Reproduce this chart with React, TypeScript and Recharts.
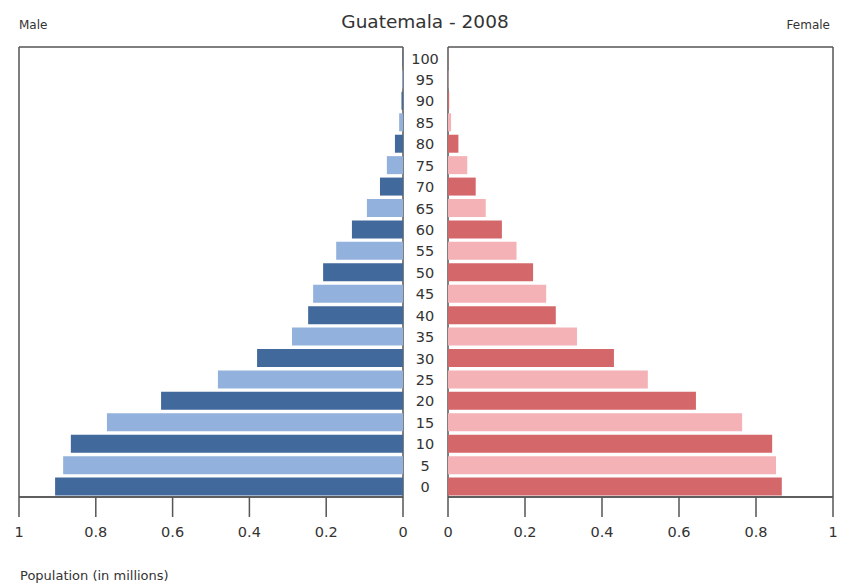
import { BarChart, Bar, XAxis, YAxis, CartesianGrid, Cell } from "recharts";

const AGES = [0, 5, 10, 15, 20, 25, 30, 35, 40, 45, 50, 55, 60, 65, 70, 75, 80, 85, 90, 95, 100];
const MALE = [0.906, 0.885, 0.865, 0.771, 0.63, 0.482, 0.38, 0.289, 0.247, 0.234, 0.208, 0.174, 0.133, 0.094, 0.06, 0.042, 0.021, 0.01, 0.004, 0.002, 0.001];
const FEMALE = [0.867, 0.852, 0.842, 0.764, 0.644, 0.519, 0.431, 0.335, 0.28, 0.255, 0.221, 0.178, 0.14, 0.098, 0.072, 0.05, 0.027, 0.008, 0.003, 0.001, 0.0005];
const X_TICKS = [0, 0.2, 0.4, 0.6, 0.8, 1];

const MALE_COLORS = ["#41699b", "#92b1dc"];
const FEMALE_COLORS = ["#d4676a", "#f4b1b6"];

const FONT = "'DejaVu Sans', sans-serif";
const AXIS_COLOR = "#555";

const data = AGES.map((age, i) => ({ age: String(age), male: MALE[i], female: FEMALE[i] }));

// only draw the outer box of the plot area
const frameX = ({ offset }: any) => [offset.left, offset.left + offset.width];
const frameY = ({ offset }: any) => [offset.top, offset.top + offset.height];

const tickStyle = { fontSize: 14.5, fill: "#333", fontFamily: FONT };

function AgeTick(props: any) {
  const { y, payload } = props;
  return (
    <text x={22} y={y} dy="0.4em" textAnchor="middle" fontSize={14.5} fill="#333" fontFamily={FONT}>
      {payload.value}
    </text>
  );
}

export default function App() {
  return (
    <div style={{ position: "absolute", left: 0, top: 0, width: 842, height: 586, background: "#fff", fontFamily: FONT }}>
      <div style={{ position: "absolute", left: 0, width: 850, top: 11, textAlign: "center", fontSize: 18.5, color: "#333" }}>
        Guatemala - 2008
      </div>
      <div style={{ position: "absolute", left: 19, top: 18, fontSize: 12, color: "#333" }}>Male</div>
      <div style={{ position: "absolute", right: 12, top: 18, fontSize: 12, color: "#333" }}>Female</div>
      <div style={{ position: "absolute", left: 20, top: 568, fontSize: 13, color: "#333" }}>Population (in millions)</div>

      <div style={{ position: "absolute", left: 0, top: 0 }}>
        <BarChart
          width={420}
          height={586}
          data={data}
          layout="vertical"
          margin={{ top: 47, right: 17, left: 19, bottom: 0 }}
          barCategoryGap="15%"
        >
          <CartesianGrid
            stroke={AXIS_COLOR}
            strokeWidth={1.5}
            verticalCoordinatesGenerator={frameX}
            horizontalCoordinatesGenerator={frameY}
          />
          <XAxis
            type="number"
            domain={[0, 1]}
            ticks={X_TICKS}
            reversed
            height={89}
            tickSize={20}
            tickMargin={10}
            stroke={AXIS_COLOR}
            strokeWidth={1.5}
            tick={tickStyle}
            tickFormatter={(v) => String(v)}
            interval={0}
          />
          <YAxis type="category" dataKey="age" reversed hide />
          <Bar dataKey="male" barSize={18} isAnimationActive={false}>
            {data.map((d, i) => (
              <Cell key={d.age} fill={MALE_COLORS[i % 2]} />
            ))}
          </Bar>
        </BarChart>
      </div>

      <div style={{ position: "absolute", left: 403, top: 0 }}>
        <BarChart
          width={439}
          height={586}
          data={data}
          layout="vertical"
          margin={{ top: 47, right: 9, left: 0, bottom: 0 }}
          barCategoryGap="15%"
        >
          <CartesianGrid
            stroke={AXIS_COLOR}
            strokeWidth={1.5}
            verticalCoordinatesGenerator={frameX}
            horizontalCoordinatesGenerator={frameY}
          />
          <XAxis
            type="number"
            domain={[0, 1]}
            ticks={X_TICKS}
            height={89}
            tickSize={20}
            tickMargin={10}
            stroke={AXIS_COLOR}
            strokeWidth={1.5}
            tick={tickStyle}
            tickFormatter={(v) => String(v)}
            interval={0}
          />
          <YAxis
            type="category"
            dataKey="age"
            reversed
            width={45}
            axisLine={false}
            tickLine={false}
            tick={<AgeTick />}
            interval={0}
          />
          <Bar dataKey="female" barSize={18} isAnimationActive={false}>
            {data.map((d, i) => (
              <Cell key={d.age} fill={FEMALE_COLORS[i % 2]} />
            ))}
          </Bar>
        </BarChart>
      </div>
    </div>
  );
}
